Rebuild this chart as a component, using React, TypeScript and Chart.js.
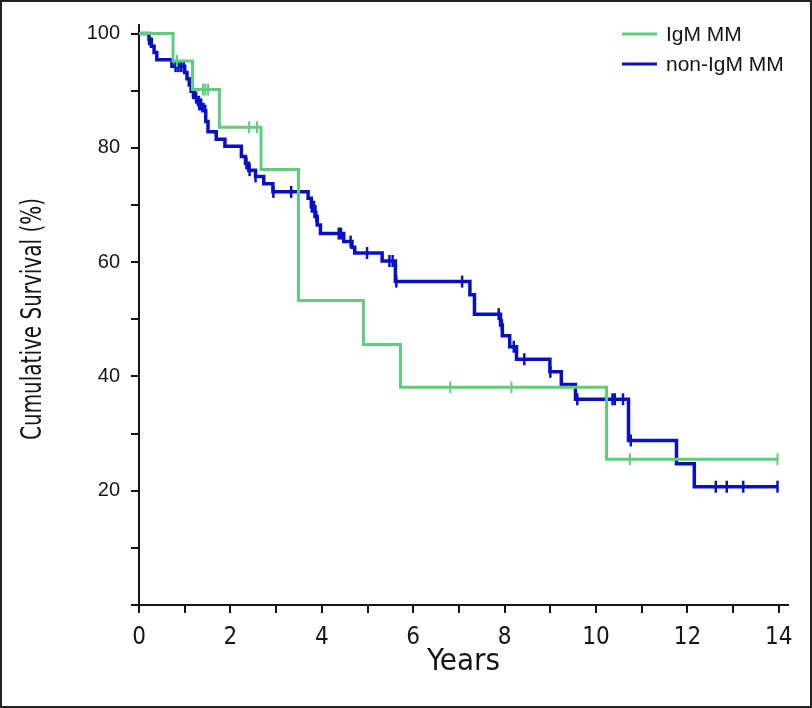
import React, { useEffect, useRef } from "react";
import { Chart, registerables } from "chart.js";

Chart.register(...registerables);

// ---- Data ----
const seriesLabels = ["IgM MM", "non-IgM MM"];
const xTitle = "Years";
const yTitle = "Cumulative Survival (%)";

// IgM MM: step times (years) and survival (%) after each step
const igmTimes = [0, 0.745, 1.17, 1.76, 2.67, 3.49, 4.91, 5.72, 10.23, 13.97];
const igmSurv = [100, 95.2, 90.2, 83.6, 76.2, 53.3, 45.6, 38.1, 25.5, 25.5];
const igmCensored = [0.83, 1.4, 1.45, 1.51, 2.41, 2.58, 6.81, 8.15, 10.74, 13.97];

// non-IgM MM
const nonIgmTimes = [
  0, 0.22, 0.27, 0.33, 0.39, 0.72, 1.0, 1.05, 1.1, 1.14, 1.2, 1.3, 1.4, 1.46, 1.51,
  1.69, 1.88, 2.24, 2.33, 2.4, 2.55, 2.73, 2.93, 3.7, 3.77, 3.85, 3.9, 3.97, 4.48,
  4.66, 4.72, 5.32, 5.61, 7.24, 7.34, 7.91, 7.95, 8.11, 8.26, 8.99, 9.24, 9.55,
  10.71, 11.76, 12.15, 13.97,
];
const nonIgmSurv = [
  100, 99.0, 97.8, 96.7, 95.4, 94.3, 93.2, 92.1, 91.0, 89.9, 88.8, 87.6, 86.5, 84.6,
  82.8, 81.5, 80.3, 78.5, 77.3, 76.1, 75.0, 73.7, 72.3, 71.2, 69.7, 68.0, 66.5, 65.0,
  63.6, 62.6, 61.6, 60.2, 56.6, 54.3, 50.9, 49.0, 47.1, 45.2, 43.0, 40.8, 38.6, 36.0,
  28.8, 24.7, 20.7, 20.7,
];
const nonIgmCensored = [
  0.22, 0.8, 0.86, 0.92, 0.98, 1.18, 1.25, 1.32, 1.36, 1.45, 2.35, 2.42, 2.55, 2.94,
  3.33, 3.78, 3.83, 3.88, 4.37, 4.42, 4.63, 4.99, 5.48, 5.55, 5.63, 7.07, 7.87, 7.94,
  8.2, 8.43, 9.0, 9.59, 10.36, 10.41, 10.59, 10.76, 12.62, 12.86, 13.22, 13.97,
];

const xTickLabels = [0, 2, 4, 6, 8, 10, 12, 14];
const yTickLabels = [20, 40, 60, 80, 100];

const GREEN = "rgb(94, 206, 124)";
const BLUE = "rgb(8, 16, 196)";
const INK = "#151515";
const NARROW = "'Liberation Sans Narrow', 'DejaVu Sans Condensed', 'Arial Narrow', sans-serif";
const SANS = "'Liberation Sans', Arial, Helvetica, sans-serif";

function toPoints(times: number[], surv: number[]) {
  return times.map((t, i) => ({ x: t, y: surv[i] }));
}
function onCurve(times: number[], surv: number[], marks: number[]) {
  return marks.map((t) => {
    let s = surv[0];
    for (let i = 0; i < times.length; i++) if (times[i] <= t) s = surv[i];
    return { x: t, y: s };
  });
}

const legendPlugin = {
  id: "kmLegend",
  afterDraw(chart: any) {
    const ctx = chart.ctx;
    const colors = [GREEN, BLUE];
    ctx.save();
    seriesLabels.forEach((lab, i) => {
      const y = 34 + i * 30;
      ctx.strokeStyle = colors[i];
      ctx.lineWidth = 3;
      ctx.beginPath();
      ctx.moveTo(622, y);
      ctx.lineTo(657, y);
      ctx.stroke();
      ctx.fillStyle = INK;
      ctx.font = `21px ${SANS}`;
      ctx.textBaseline = "middle";
      ctx.textAlign = "left";
      ctx.fillText(lab, 666, y + 1);
    });
    ctx.restore();
  },
};

// y-axis title drawn condensed (the reference uses a narrow face)
const yTitlePlugin = {
  id: "yTitleNarrow",
  afterDraw(chart: any) {
    const ctx = chart.ctx;
    const area = chart.chartArea;
    ctx.save();
    ctx.font = `28px ${NARROW}`;
    const w = ctx.measureText(yTitle).width;
    const target = 242;
    ctx.translate(34, (area.top + area.bottom) / 2 + 4);
    ctx.rotate(-Math.PI / 2);
    ctx.scale(Math.min(1, target / w), 1);
    ctx.fillStyle = INK;
    ctx.textAlign = "center";
    ctx.textBaseline = "middle";
    ctx.fillText(yTitle, 0, 0);
    ctx.restore();
  },
};

export default function App() {
  const ref = useRef<HTMLCanvasElement>(null);
  useEffect(() => {
    document.body.style.margin = "0";
    const canvas = ref.current!;
    const censorStyle = (color: string, w: number) => ({
      showLine: false,
      pointStyle: "line" as const,
      rotation: 90,
      pointRadius: 6,
      pointHoverRadius: 6,
      pointBorderWidth: w,
      pointBorderColor: color,
      pointBackgroundColor: color,
      borderColor: color,
    });
    const chart = new Chart(canvas, {
      type: "scatter",
      data: {
        datasets: [
          {
            label: seriesLabels[0],
            data: toPoints(igmTimes, igmSurv),
            showLine: true,
            stepped: true,
            borderColor: GREEN,
            borderWidth: 3,
            pointRadius: 0,
            order: 0,
          } as any,
          { label: "igm-censored", data: onCurve(igmTimes, igmSurv, igmCensored), ...censorStyle(GREEN, 2), order: 0 } as any,
          {
            label: seriesLabels[1],
            data: toPoints(nonIgmTimes, nonIgmSurv),
            showLine: true,
            stepped: true,
            borderColor: BLUE,
            borderWidth: 3.5,
            pointRadius: 0,
            order: 1,
          } as any,
          { label: "non-igm-censored", data: onCurve(nonIgmTimes, nonIgmSurv, nonIgmCensored), ...censorStyle(BLUE, 2.5), order: 1 } as any,
        ],
      },
      options: {
        animation: false,
        responsive: false,
        maintainAspectRatio: false,
        layout: { padding: { left: 0, right: 24, top: 25, bottom: 0 } },
        plugins: { legend: { display: false }, tooltip: { enabled: false } },
        scales: {
          x: {
            type: "linear",
            min: 0,
            max: 14.2,
            afterFit: (s: any) => {
              s.height = 103;
            },
            ticks: {
              stepSize: 1,
              includeBounds: false,
              autoSkip: false,
              maxRotation: 0,
              padding: 10,
              color: INK,
              font: { family: NARROW, size: 24 },
              callback: (v: any) => (xTickLabels.includes(Number(v)) ? String(v) : ""),
            },
            grid: { drawOnChartArea: false, drawTicks: true, tickLength: 8, color: INK, lineWidth: 2 },
            border: { color: INK, width: 2 },
            title: {
              display: true,
              text: xTitle,
              color: INK,
              font: { family: NARROW, size: 31 },
              padding: { top: 0, bottom: 27 },
            },
          },
          y: {
            type: "linear",
            min: 0,
            max: 101.5,
            afterFit: (s: any) => {
              s.width = 139;
            },
            ticks: {
              stepSize: 10,
              includeBounds: false,
              autoSkip: false,
              padding: 11,
              color: INK,
              font: { family: SANS, size: 20 },
              callback: (v: any) => (yTickLabels.includes(Number(v)) ? String(v) : ""),
            },
            grid: { drawOnChartArea: false, drawTicks: true, tickLength: 8, color: INK, lineWidth: 2 },
            border: { color: INK, width: 2 },
            title: { display: false, text: yTitle },
          },
        },
      } as any,
      plugins: [legendPlugin, yTitlePlugin],
    });
    return () => chart.destroy();
  }, []);

  return (
    <div style={{ position: "relative", width: 812, height: 708, background: "#fff" }}>
      <canvas ref={ref} width={812} height={708} style={{ position: "absolute", left: 0, top: 0 }} />
      <div
        style={{
          position: "absolute",
          left: 0,
          top: 0,
          width: 812,
          height: 708,
          boxSizing: "border-box",
          border: "2px solid #222",
          pointerEvents: "none",
        }}
      />
    </div>
  );
}
